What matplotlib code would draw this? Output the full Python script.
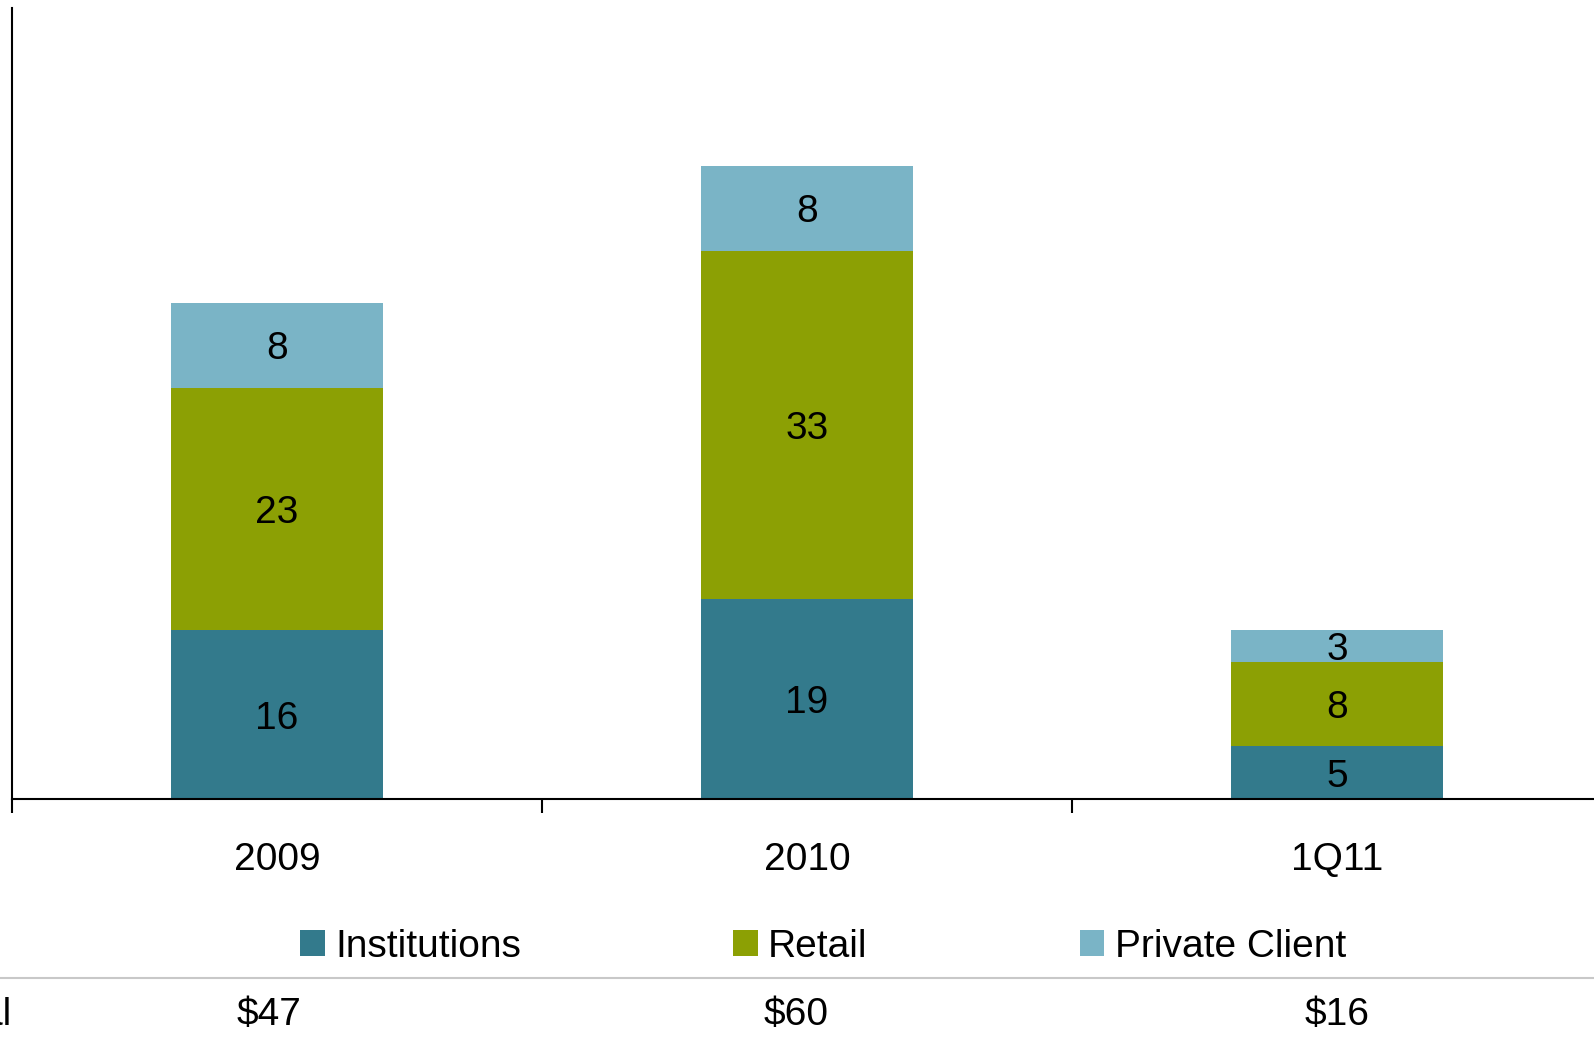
import matplotlib.pyplot as plt
import matplotlib.transforms as mtransforms
from matplotlib.lines import Line2D
from matplotlib.patches import Patch
import numpy as np

plt.rcParams['font.family'] = ['Liberation Sans', 'DejaVu Sans']

# Données (en millions)
categories = ["2009", "2010", "1Q11"]
institutions = [16, 19, 5]
retail = [23, 33, 8]
private_client = [8, 8, 3]

series_names = ["Institutions", "Retail", "Private Client"]
colors = ["#337A8C", "#8CA004", "#7AB4C6"]

W, H = 1594, 1040
fig = plt.figure(figsize=(W / 100, H / 100), dpi=100)

# axes qui débordent légèrement à droite de la figure
ax = fig.add_axes([12 / W, (H - 799) / H, 1590 / W, (799 - 8) / H])

x = np.arange(len(categories))
bottom = np.zeros(len(categories))
for vals, name, col in zip([institutions, retail, private_client], series_names, colors):
    vals = np.array(vals)
    ax.bar(x, vals, width=0.4, bottom=bottom, color=col, label=name, zorder=2)
    for xi, b, v in zip(x, bottom, vals):
        ax.text(xi, b + v / 2, f"{v}", ha="center", va="center_baseline",
                fontsize=28, color="black")
    bottom = bottom + vals

ax.set_xlim(-0.5, 2.5)
ax.set_ylim(0, 75)

for s in ["top", "right"]:
    ax.spines[s].set_visible(False)
ax.spines["left"].set_linewidth(1.5)
ax.spines["bottom"].set_linewidth(1.5)

ax.set_yticks([])
ax.set_xticks(x)
ax.set_xticklabels(categories, fontsize=28)
ax.tick_params(axis="x", which="major", length=0, pad=31)
ax.set_xticks([-0.5, 0.5, 1.5, 2.5], minor=True)
ax.tick_params(axis="x", which="minor", length=10, width=1.5, direction="out")

# Légende
handles = [Patch(facecolor=c, edgecolor="none") for c in colors]
fig.legend(handles, series_names, loc="center", bbox_to_anchor=(823 / W, 1 - 947 / H),
           ncol=3, frameon=False, fontsize=28, handlelength=0.64, handleheight=0.64,
           handletextpad=0.26, columnspacing=5.45, borderpad=0, borderaxespad=0)

# Ligne de séparation et totaux
fig.add_artist(Line2D([0, 1], [1 - 978 / H, 1 - 978 / H], color="#C8C8C8", linewidth=1.5))
fig.text(11 / W, 1 - 1015 / H, "Total", ha="right", va="center", fontsize=28)
blend = mtransforms.blended_transform_factory(ax.transData, fig.transFigure)
offsets = [-0.015, -0.02, 0.0]
for xi, t, dx in zip(x, bottom, offsets):
    fig.text(xi + dx, 1 - 1015 / H, f"${int(t)}", ha="center", va="center",
             fontsize=28, transform=blend)

fig.savefig("out.png", dpi=100)
